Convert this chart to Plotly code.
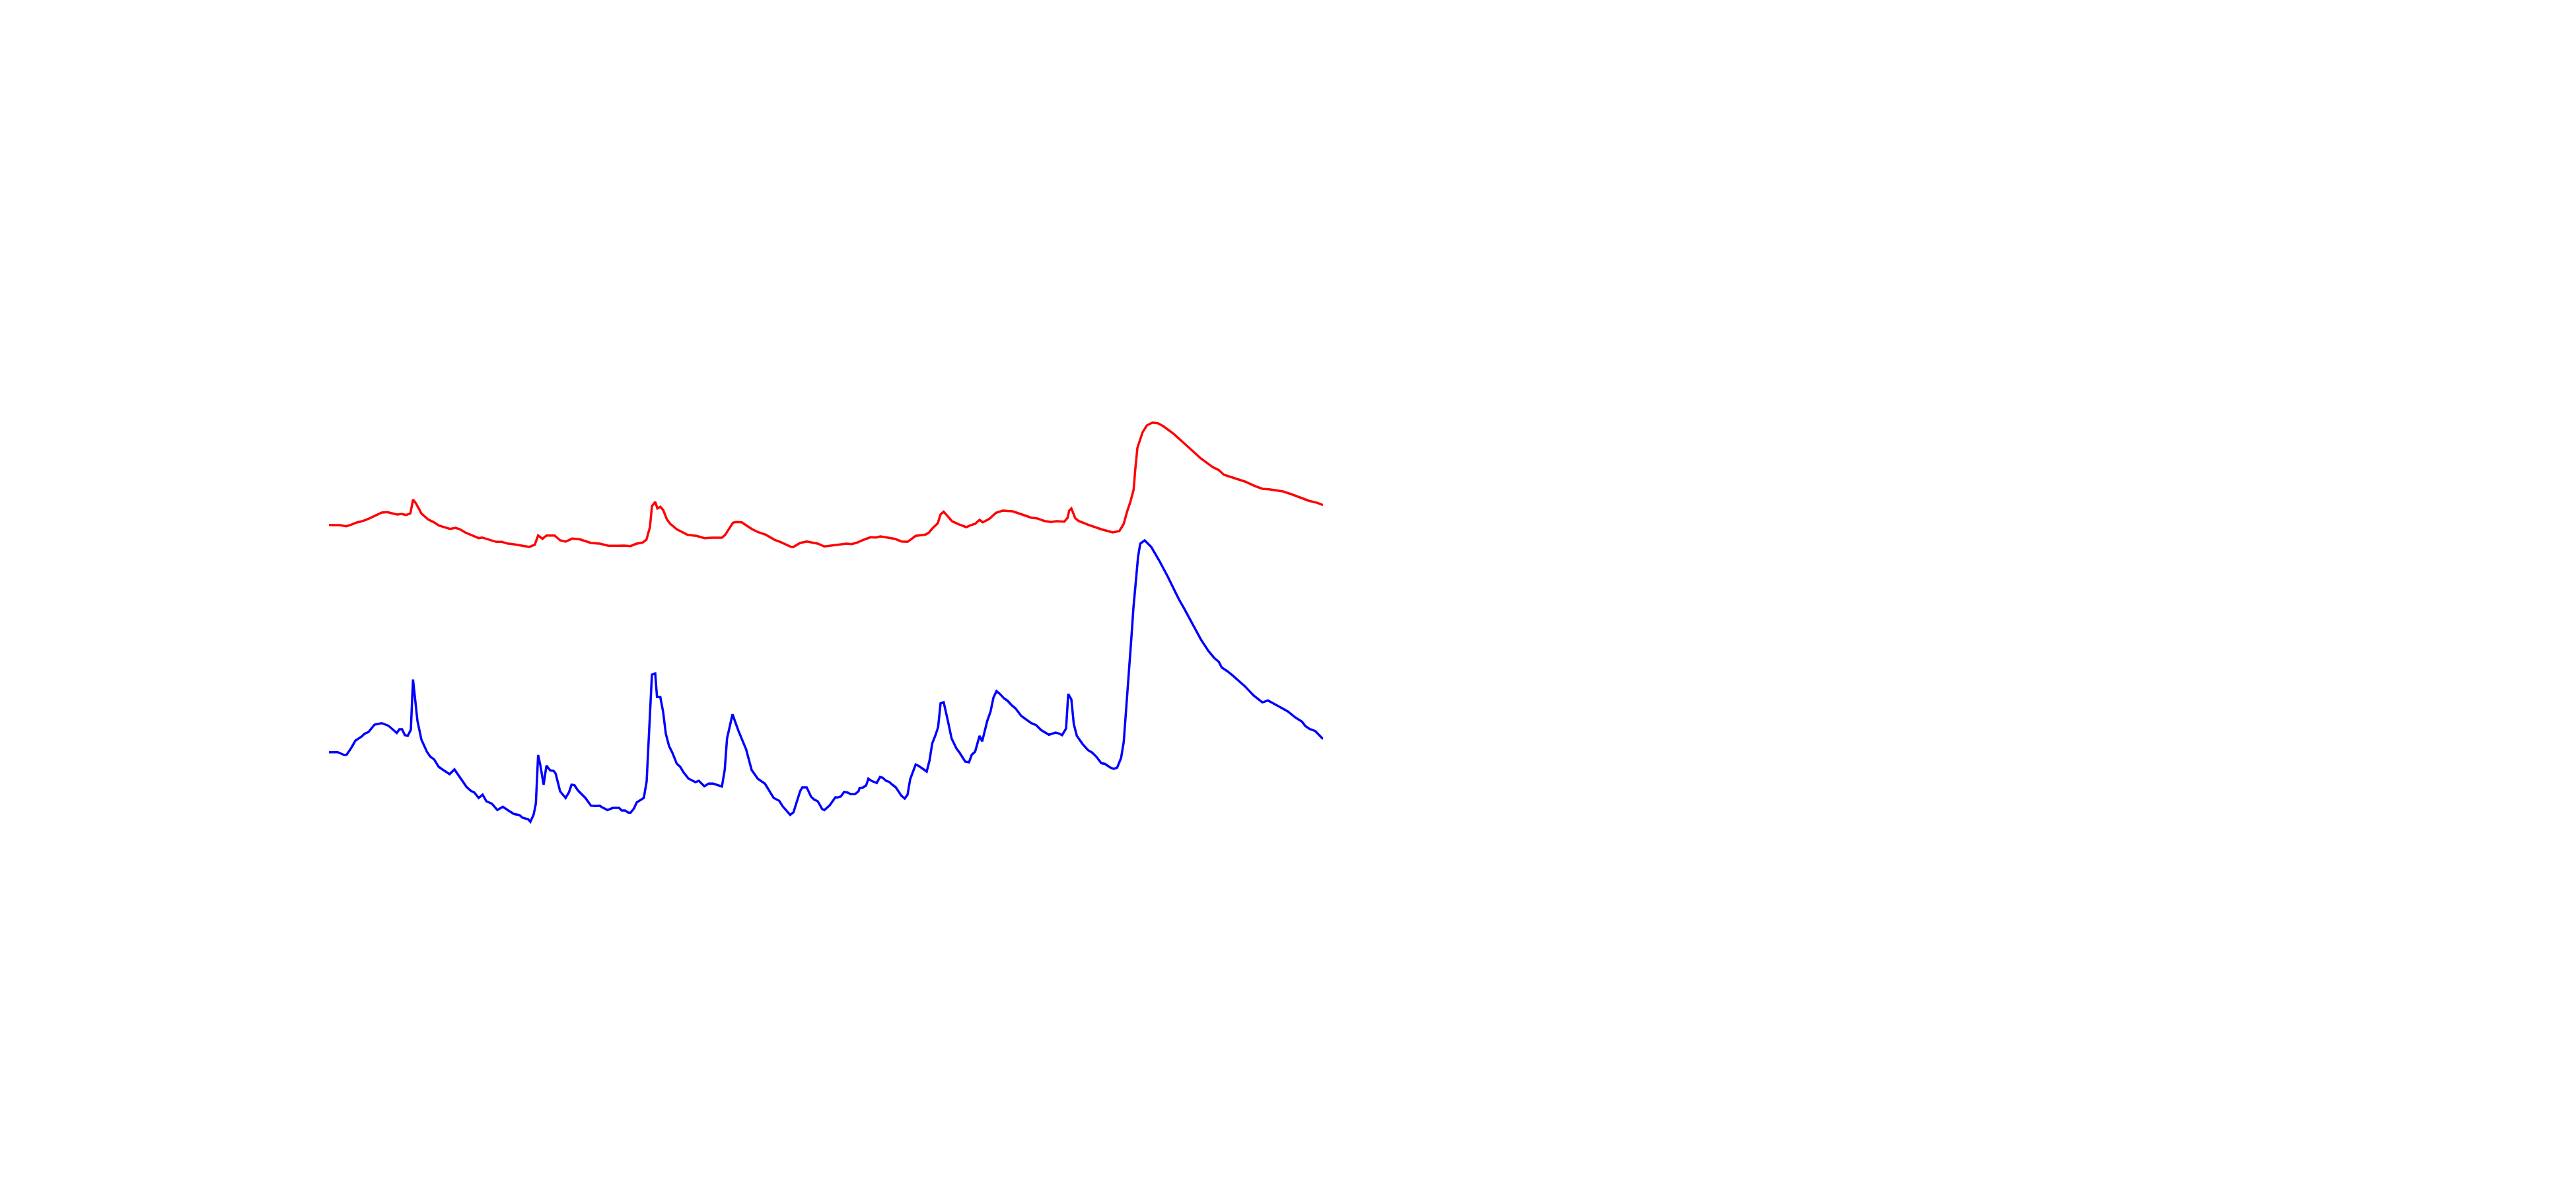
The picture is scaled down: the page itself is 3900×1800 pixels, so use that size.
import plotly.graph_objects as go

# Red series (upper trace)
red_x = [0, 1.67, 2.6, 3.3, 4.3, 5.17, 6.0, 7.0, 8.0, 8.83,
         10.33, 11.0, 11.67, 12.33, 12.73, 13.17, 14.0, 15.0, 15.83, 16.67,
         18.33, 19.17, 19.83, 20.67, 21.67, 22.67, 23.17, 24.0, 25.33, 26.17,
         27.0, 28.0, 29.33, 30.33, 31.17, 31.67, 32.33, 32.93, 34.17, 35.0,
         35.83, 36.83, 38.0, 39.67, 41.0, 42.33, 43.67, 44.67, 45.67, 46.5,
         47.5, 48.07, 48.6, 48.9, 49.4, 49.73, 50.17, 50.6, 51.17, 51.67,
         52.67, 54.33, 55.67, 56.83, 58.0, 59.5, 60.0, 61.17, 61.67, 62.5,
         64.0, 65.0, 66.17, 67.5, 68.33, 70.0, 70.33, 71.33, 72.33, 74.0,
         75.0, 76.67, 77.83, 78.33, 79.17, 80.0, 81.0, 82.0, 82.83, 83.5,
         85.67, 86.67, 87.6, 88.83, 90.33, 90.83, 91.33, 92.17, 92.6, 93.07,
         93.67, 94.33, 95.33, 96.5, 97.1, 97.83, 98.5, 99.0, 100.0, 101.0,
         102.0, 103.5, 104.67, 106.33, 107.17, 108.33, 109.33, 110.17, 111.33, 111.83,
         112.07, 112.4, 113.0, 113.5, 115.0, 117.0, 118.67, 119.67, 120.33, 120.83,
         121.33, 121.83, 122.07, 122.4, 123.17, 123.83, 124.67, 125.5, 126.33, 127.83,
         129.33, 131.0, 132.0, 133.83, 134.67, 135.5, 137.0, 138.67, 140.33, 141.33,
         142.33, 144.33, 145.67, 147.0, 148.33, 149.67, 150.5]
red_y = [71.33, 71.3, 71.13, 71.33, 71.73, 71.93, 72.27, 72.77, 73.2, 73.27,
         72.9, 73.0, 72.83, 73.07, 75.17, 74.6, 73.07, 72.17, 71.77, 71.23,
         70.73, 70.9, 70.67, 70.17, 69.73, 69.33, 69.43, 69.17, 68.77, 68.77,
         68.53, 68.4, 68.2, 68.0, 68.33, 69.73, 69.23, 69.73, 69.73, 69.0,
         68.8, 69.27, 69.15, 68.6, 68.5, 68.17, 68.17, 68.2, 68.13, 68.47,
         68.67, 69.1, 71.0, 74.17, 74.83, 73.83, 74.07, 73.6, 72.17, 71.5,
         70.67, 69.83, 69.67, 69.33, 69.4, 69.4, 69.83, 71.67, 71.77, 71.73,
         70.73, 70.23, 69.83, 69.07, 68.77, 68.0, 68.0, 68.6, 68.83, 68.5,
         68.07, 68.27, 68.45, 68.5, 68.43, 68.67, 69.1, 69.47, 69.43, 69.6,
         69.23, 68.83, 68.77, 69.67, 69.87, 70.17, 70.77, 71.57, 72.93, 73.33,
         72.67, 71.9, 71.43, 71.0, 71.27, 71.5, 72.1, 71.73, 72.27, 73.17,
         73.5, 73.4, 73.0, 72.43, 72.33, 71.93, 71.77, 71.9, 71.83, 72.4,
         73.5, 73.83, 72.33, 71.93, 71.33, 70.65, 70.2, 70.4, 71.5, 73.33,
         74.8, 76.67, 79.67, 83.0, 85.33, 86.4, 86.83, 86.73, 86.27, 85.17,
         83.83, 82.33, 81.4, 80.07, 79.67, 78.93, 78.47, 77.9, 77.17, 76.8,
         76.73, 76.43, 76.0, 75.5, 75.0, 74.67, 74.33]

# Blue series (lower trace)
blue_x = [0, 1.33, 2.33, 2.67, 3.33, 4.0, 5.0, 5.33, 6.0, 6.9,
          8.0, 9.0, 9.6, 10.27, 10.67, 11.07, 11.5, 11.93, 12.4, 12.73,
          13.4, 14.0, 14.83, 15.33, 15.93, 16.6, 17.17, 18.27, 19.0, 19.67,
          20.83, 21.5, 22.0, 22.67, 23.27, 23.83, 24.67, 25.5, 26.33, 27.17,
          28.0, 28.83, 29.33, 30.17, 30.5, 31.0, 31.33, 31.67, 32.0, 32.5,
          32.93, 33.5, 34.0, 34.33, 35.0, 35.83, 36.33, 36.73, 37.17, 37.67,
          38.0, 38.83, 39.67, 40.33, 41.0, 41.33, 42.17, 43.0, 43.93, 44.33,
          44.83, 45.33, 45.67, 46.17, 46.6, 47.67, 48.1, 48.9, 49.4, 49.67,
          50.17, 50.6, 51.0, 51.5, 52.0, 52.67, 53.17, 53.67, 54.43, 55.5,
          56.0, 56.83, 57.5, 58.17, 59.5, 59.93, 60.27, 61.1, 62.0, 63.17,
          64.0, 64.93, 66.0, 67.33, 68.17, 68.67, 69.83, 70.33, 71.33, 71.67,
          72.33, 73.0, 73.5, 74.0, 74.67, 75.0, 75.83, 76.67, 77.0, 77.5,
          78.0, 78.5, 79.0, 79.67, 80.17, 80.33, 80.83, 81.33, 81.67, 82.17,
          82.93, 83.43, 83.83, 84.33, 84.83, 85.17, 85.83, 86.67, 87.17, 87.6,
          88.0, 88.83, 89.33, 90.5, 90.93, 91.33, 91.83, 92.23, 92.6, 93.07,
          93.67, 94.27, 95.0, 95.5, 96.33, 96.9, 97.33, 97.83, 98.5, 98.9,
          99.67, 100.17, 100.6, 101.07, 101.6, 102.17, 102.73, 103.33, 103.93, 104.83,
          106.33, 107.1, 107.83, 109.0, 110.0, 110.5, 111.0, 111.6, 111.93, 112.4,
          112.77, 113.23, 114.1, 114.93, 115.5, 116.17, 116.93, 117.5, 118.33, 118.83,
          119.33, 119.93, 120.33, 120.73, 121.17, 121.5, 121.8, 122.17, 122.5, 122.83,
          123.5, 124.5, 125.67, 127.0, 128.67, 129.5, 130.67, 132.0, 133.17, 134.0,
          134.73, 135.17, 136.0, 136.83, 138.67, 140.0, 141.33, 142.17, 143.33, 144.33,
          145.17, 146.33, 147.33, 147.83, 148.5, 149.33, 150.5]
blue_y = [36.93, 36.93, 36.5, 36.53, 37.5, 38.67, 39.33, 39.67, 40.0, 41.1,
          41.33, 40.93, 40.43, 39.83, 40.4, 40.4, 39.5, 39.4, 40.33, 47.93,
          41.67, 38.83, 37.0, 36.27, 35.83, 34.73, 34.33, 33.6, 34.33, 33.33,
          31.67, 31.07, 30.83, 30.0, 30.5, 29.5, 29.13, 28.17, 28.67, 28.1,
          27.57, 27.4, 27.0, 26.77, 26.4, 27.5, 29.17, 36.5, 35.0, 32.0,
          34.9, 34.17, 34.1, 33.67, 31.0, 30.0, 30.83, 32.0, 31.93, 31.17,
          30.83, 30.0, 28.83, 28.77, 28.83, 28.6, 28.17, 28.5, 28.5, 28.1,
          28.1, 27.77, 27.77, 28.4, 29.33, 30.0, 32.5, 48.67, 48.83, 45.27,
          45.27, 43.0, 39.73, 37.83, 36.83, 35.17, 34.73, 33.9, 32.93, 32.4,
          32.6, 31.77, 32.17, 32.17, 31.73, 34.33, 39.0, 42.67, 40.17, 37.33,
          34.23, 32.9, 32.17, 30.0, 29.57, 28.77, 27.43, 27.83, 31.0, 31.6,
          31.6, 30.17, 29.73, 29.5, 28.33, 28.17, 28.9, 30.1, 30.07, 30.23,
          30.9, 30.83, 30.57, 30.6, 31.0, 31.5, 31.57, 31.9, 32.93, 32.57,
          32.27, 33.17, 33.07, 32.6, 32.43, 32.1, 31.6, 30.33, 29.9, 30.5,
          32.83, 35.07, 34.83, 34.0, 35.67, 38.23, 39.5, 40.73, 44.33, 44.5,
          41.83, 39.0, 37.5, 36.83, 35.5, 35.4, 36.57, 37.0, 39.4, 38.57,
          41.67, 43.1, 45.17, 46.17, 45.73, 45.1, 44.73, 44.07, 43.57, 42.4,
          41.33, 41.0, 40.27, 39.57, 39.9, 39.77, 39.5, 40.5, 45.73, 44.93,
          41.17, 39.4, 38.17, 37.23, 36.9, 36.27, 35.27, 35.15, 34.58, 34.4,
          34.58, 36.06, 38.47, 43.65, 49.94, 54.4, 58.8, 62.7, 66.5, 68.5,
          69.0, 68.0, 66.0, 63.5, 60.1, 58.63, 56.41, 54.01, 52.23, 51.23,
          50.6, 49.75, 49.2, 48.53, 46.91, 45.5, 44.46, 44.76, 44.13, 43.54,
          43.1, 42.17, 41.54, 40.87, 40.43, 40.13, 38.91]

assert len(red_x) == len(red_y)
assert len(blue_x) == len(blue_y)

fig = go.Figure()
fig.add_trace(go.Scatter(x=red_x, y=red_y, mode="lines",
                         line=dict(color="#ff0000", width=3.5)))
fig.add_trace(go.Scatter(x=blue_x, y=blue_y, mode="lines",
                         line=dict(color="#0000ff", width=3.5)))

fig.update_layout(
    width=3900, height=1800,
    margin=dict(l=490, r=1905, t=500, b=300),
    paper_bgcolor="white", plot_bgcolor="white",
    showlegend=False,
    xaxis=dict(range=[0, 150.5], visible=False),
    yaxis=dict(range=[0, 100], visible=False),
)

fig.write_html("out.html")
